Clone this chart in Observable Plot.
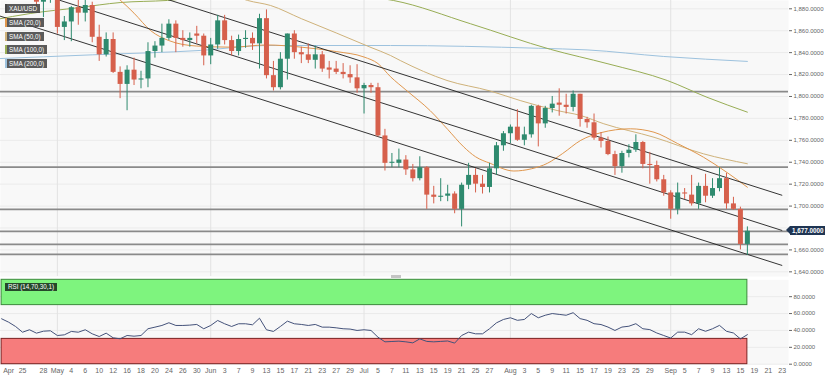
<!DOCTYPE html>
<html><head><meta charset="utf-8">
<script src="https://cdn.jsdelivr.net/npm/d3@7"></script>
<script src="https://cdn.jsdelivr.net/npm/@observablehq/plot@0.6"></script>
<style>
body{margin:0;background:#fff;font-family:"Liberation Sans",Arial,sans-serif;}
#wrap{position:relative;width:825px;height:381px;overflow:hidden;background:#fff;}
.panel{position:absolute;left:0;}
.leg{position:absolute;left:5px;height:9px;line-height:9px;font-size:6.3px;color:#fff;background:rgba(72,72,72,0.9);padding:0 3px 0 2px;white-space:nowrap;border-left:2px solid #484848;}
#rsiLab{position:absolute;left:5px;top:282.5px;height:8.5px;line-height:8.5px;font-size:6.3px;color:#fff;background:#25492a;padding:0 3px;white-space:nowrap;}
#tag{position:absolute;left:790px;height:9px;line-height:9px;font-size:6.3px;font-weight:bold;color:#fff;background:#1f3553;padding:0 2px;white-space:nowrap;}
#tagArrow{position:absolute;left:786px;width:0;height:0;border-top:4.5px solid transparent;border-bottom:4.5px solid transparent;border-right:4px solid #1f3553;}
#scroll{position:absolute;left:391px;top:275px;width:10px;height:3px;background:#c4c4c4;}
</style></head><body><div id="wrap"></div>
<script>
// ---------- data ----------
const firstIndex = -3; // Apr 20, 2022 (Apr 25 = 0), trading-day index
const open = [1951,1958,1951,
 1932,1898,1904,1886,1894, 1897,1863,1868,1881,1876, 1883,1854,1838,1852,1822,
 1811,1824,1815,1816,1841, 1846,1853,1866,1853,1851, 1857,1855,1837,1847,1869,
 1851,1841,1852,1853,1848, 1871,1819,1808,1834,1857, 1840,1838,1833,1838,1826,
 1825,1822,1820,1817,1807, 1810,1808,1764,1739,1739, 1742,1733,1725,1735,1710,
 1708,1709,1711,1697,1719, 1728,1720,1717,1734,1755, 1766,1772,1760,1765,1791,
 1775,1789,1794,1792,1790, 1802,1779,1776,1762,1759, 1747,1736,1748,1751,1758,
 1738,1737,1724,1712,1697, 1712,1710,1702,1718,1709, 1716,1725,1702,1697,1665];
const high = [1962,1966,1958,
 1936,1911,1908,1909,1920, 1898,1873,1882,1909,1890, 1886,1865,1858,1858,1827,
 1828,1835,1823,1849,1850, 1866,1870,1869,1860,1858, 1864,1857,1853,1874,1874,
 1855,1856,1860,1858,1875, 1879,1832,1840,1857,1860, 1845,1848,1846,1841,1832,
 1832,1830,1828,1829,1812, 1812,1812,1770,1748,1752, 1746,1738,1745,1736,1718,
 1725,1719,1713,1721,1739, 1734,1728,1739,1758,1768, 1774,1788,1772,1792,1792,
 1791,1800,1807,1802,1805, 1802,1781,1784,1767,1763, 1750,1750,1756,1765,1759,
 1749,1741,1728,1714,1721, 1716,1728,1721,1729,1725, 1735,1730,1708,1699,1681];
const low = [1941,1940,1929,
 1891,1891,1880,1872,1885, 1857,1851,1850,1865,1868, 1849,1832,1836,1821,1798,
 1787,1810,1807,1808,1835, 1840,1851,1840,1845,1845, 1848,1828,1829,1843,1847,
 1837,1837,1844,1842,1825, 1816,1805,1806,1815,1834, 1830,1830,1825,1822,1816,
 1820,1816,1812,1803,1784, 1803,1763,1732,1735,1735, 1728,1722,1723,1697,1702,
 1704,1704,1693,1681,1715, 1712,1711,1712,1728,1750, 1757,1759,1755,1762,1754,
 1771,1785,1782,1784,1786, 1772,1771,1760,1753,1746, 1728,1730,1744,1749,1734,
 1720,1722,1709,1688,1692, 1706,1700,1697,1703,1707, 1713,1697,1696,1660,1655];
const close = [1958,1951,1931,
 1898,1904,1886,1894,1897, 1863,1868,1881,1876,1883, 1854,1838,1852,1822,1811,
 1824,1815,1816,1841,1846, 1853,1866,1853,1851,1853, 1855,1837,1847,1869,1851,
 1841,1852,1853,1848,1871, 1819,1808,1834,1857,1840, 1838,1833,1838,1825,1824,
 1822,1820,1817,1807,1810, 1808,1764,1739,1740,1742, 1733,1725,1735,1710,1708,
 1709,1711,1697,1719,1728, 1720,1717,1734,1755,1766, 1772,1760,1765,1791,1775,
 1789,1793,1792,1790,1802, 1779,1776,1762,1759,1747, 1736,1748,1751,1758,1738,
 1737,1724,1712,1697,1712, 1711,1702,1718,1709,1716, 1725,1702,1697,1665,1677];
const rsi = [53.8,49.8,44.7,
 37.9,40.8,36.8,39.1,39.6, 34,34.8,38.8,37.9,40.8, 36,32.8,36.8,31.3,30.1,
 34,33.2,34,42,43.9, 45.9,49.1,45.9,45.9,46.3, 47.1,42,45.9,51.8,47.9,
 44.7,47.9,47.9,46.7,54.5, 40.8,38.8,44.7,51,47.9, 47.1,45.9,47.1,43.9,43.9,
 43.1,42,41.6,40,40.8, 40,32,26.5,26.9,27.3, 26.5,25.3,30,27,26.5,
 27,27.5,25,34,38, 36,36,42,49,53, 55,52,53,60,55,
 58,60,59,58,61, 54,52,48,47,44, 40,44,45,48,42,
 41,37,34,31,38, 38,35,42,39,42, 46,39,37,30,35];

const sma20Idx = [10,14,16,18.4,21,25,30,35,40,45,49,51,52.8,55,58.5,61,63.3,65,67.1,70.5,73,75.3,77.5,80.1,83,87.2,90.6,94,97.7,101,104];
const sma20Val = [1905,1888,1876,1860,1851,1846,1845,1847,1845,1841,1836,1830,1818,1806,1787,1770,1754,1745,1739,1732,1734,1739,1748,1760,1767,1770.5,1767.4,1757,1744.6,1731,1717.2];
const sma50Idx = [28,32.3,35.6,40,45,50,52.8,54.2,60.9,67.1,71.4,76.7,80.1,83.4,90.6,97.7,104];
const sma50Val = [1898,1887.6,1883,1871,1858,1844.7,1837.4,1832.8,1814.6,1805,1796.3,1787.2,1782.6,1775.1,1762.8,1747.7,1738.6];
const sma100Idx = [-4,1.1,8,14,20.8,30,45,53.2,64.3,75.75,84,92.5,98.2,104];
const sma100Val = [1870,1875.7,1881,1885.7,1887.6,1893,1893,1887.6,1866.3,1843,1829.8,1814.6,1799.3,1785.7];
const sma200Idx = [-4,10,25.5,35,52.8,74,81,92,104];
const sma200Val = [1834.4,1838,1842,1846.5,1846.5,1844,1842.5,1836.5,1832];

const levels = [1804.5, 1735.5, 1697, 1677, 1665, 1656];
const channelStartIdx = -4, channelEndIdx = 109;
const channelStartVal = [1938.8, 1906.7, 1874.9];
const channelEndVal = [1709.8, 1677.7, 1645.8];

const priceTicks = [1640,1660,1680,1700,1720,1740,1760,1780,1800,1820,1840,1860,1880];
const rsiTicks = [0,20,40,60,80];
const rsiUpper = 70, rsiLower = 30;
const monthStartIdx = [5,27,49,70,93];
const xTickIdx = [-2,0,3,5,7,9,11,13,15,17,19,21,23,25,27,29,31,33,35,37,39,41,43,45,47,49,51,53,55,57,59,61,63,65,67,70,72,74,76,78,80,82,84,86,88,90,93,95,97,99,101,103,105,107,109];
const xTickLabels = ["Apr","25","28","May","4","6","10","12","16","18","20","24","26","30","Jun","3","7","9","13","15","17","21","23","27","29","Jul","5","7","11","13","15","19","21","25","27","Aug","3","5","9","11","15","17","19","23","25","29","Sep","5","7","9","13","15","19","21","23"];
const legendNames = ["XAU/USD","SMA (20,0)","SMA (50,0)","SMA (100,0)","SMA (200,0)"];

// ---------- styles ----------
const UP = "#2e8a6e", DOWN = "#d6604c";
const C20 = "#e0974e", C50 = "#cfb27a", C100 = "#98ad55", C200 = "#9dc2de";
const xDomain = [-3.16, 109.9];
const fontFam = "'Liberation Sans', Arial, sans-serif";

// ---------- build ----------
const candles = open.map((o,k)=>({i:k+firstIndex,o,h:high[k],l:low[k],c:close[k]}));
const up = candles.filter(d=>d.c>=d.o), down = candles.filter(d=>d.c<d.o);
const bodyEnd = d => Math.abs(d.c-d.o) < 0.9 ? d.o + (d.c>=d.o?0.9:-0.9) : d.c;
const pts = (xs, ys) => xs.map((x,k)=>({x, y: ys[k]}));
const channels = channelStartVal.map((v,k)=>({x1:channelStartIdx,y1:v,x2:channelEndIdx,y2:channelEndVal[k]}));
const lastIdx = firstIndex + close.length - 1;
const lastClose = close[close.length-1];
// the last-price tag covers the tick label next to it
const priceTickLabels = priceTicks.filter(t => Math.abs(t - lastClose) > 6);

const main = Plot.plot({
  width: 825, height: 276,
  marginLeft: 0, marginRight: 37, marginTop: 0, marginBottom: 0,
  style: {fontSize: "6px", fontFamily: fontFam, color: "#666", background: "transparent", overflow: "visible"},
  x: {domain: xDomain, axis: null},
  y: {domain: [1635.75, 1887.57], axis: "right", ticks: priceTickLabels, tickFormat: d3.format(",.4f"), tickSize: 3, tickPadding: 2, label: null},
  marks: [
    Plot.frame({fill: "#f8f8f8", stroke: null}),
    Plot.ruleY(priceTicks, {stroke: "#ebebeb"}),
    Plot.ruleX(monthStartIdx, {stroke: "#e3e3e3"}),
    Plot.ruleY(levels, {stroke: "#8a8a8a", strokeWidth: 1.8}),
    Plot.line(pts(sma200Idx, sma200Val), {x:"x", y:"y", stroke: C200, strokeWidth: 1, curve: "monotone-x", clip: true}),
    Plot.line(pts(sma100Idx, sma100Val), {x:"x", y:"y", stroke: C100, strokeWidth: 1, curve: "monotone-x", clip: true}),
    Plot.line(pts(sma50Idx, sma50Val), {x:"x", y:"y", stroke: C50, strokeWidth: 1, curve: "monotone-x", clip: true}),
    Plot.line(pts(sma20Idx, sma20Val), {x:"x", y:"y", stroke: C20, strokeWidth: 1, curve: "monotone-x", clip: true}),
    Plot.link(channels, {x1:"x1", y1:"y1", x2:"x2", y2:"y2", stroke: "#1e1e1e", strokeWidth: 0.9, clip: true}),
    Plot.ruleX(up, {x:"i", y1:"l", y2:"h", stroke: UP, strokeWidth: 1, clip: true}),
    Plot.ruleX(down, {x:"i", y1:"l", y2:"h", stroke: DOWN, strokeWidth: 1, clip: true}),
    Plot.ruleX(up, {x:"i", y1:"o", y2: bodyEnd, stroke: UP, strokeWidth: 5, clip: true}),
    Plot.ruleX(down, {x:"i", y1:"o", y2: bodyEnd, stroke: DOWN, strokeWidth: 5, clip: true})
  ]
});

const tickLabel = new Map(xTickIdx.map((d,k)=>[d, xTickLabels[k]]));
const rsiData = rsi.map((v,k)=>({i:k+firstIndex, v}));
const rsiPlot = Plot.plot({
  width: 825, height: 104,
  marginLeft: 0, marginRight: 37, marginTop: 2.3, marginBottom: 17.3,
  style: {fontSize: "6px", fontFamily: fontFam, color: "#666", background: "transparent", overflow: "visible"},
  x: {domain: xDomain, ticks: xTickIdx, tickFormat: d => tickLabel.get(d), tickSize: 0, tickPadding: 4, label: null},
  y: {domain: [0, 100], axis: "right", ticks: rsiTicks, tickFormat: d3.format(".4f"), tickSize: 3, tickPadding: 2, label: null},
  marks: [
    Plot.frame({fill: "#f8f8f8", stroke: null}),
    Plot.ruleY(rsiTicks, {stroke: "#ebebeb"}),
    Plot.ruleX(monthStartIdx, {stroke: "#e3e3e3"}),
    Plot.rect([0], {x1: firstIndex, x2: lastIdx, y1: rsiUpper, y2: 100, fill: "#7ef47e", stroke: "#3b8a3b", strokeWidth: 1}),
    Plot.rect([0], {x1: firstIndex, x2: lastIdx, y1: 0, y2: rsiLower, fill: "#f67c7c", stroke: "#7a2020", strokeWidth: 1}),
    Plot.line(rsiData, {x:"i", y:"v", stroke: "#44527a", strokeWidth: 1})
  ]
});

const wrap = document.getElementById("wrap");
main.classList.add("panel"); main.style.top = "0px";
rsiPlot.classList.add("panel"); rsiPlot.style.top = "277px";
wrap.appendChild(main); wrap.appendChild(rsiPlot);
d3.select(rsiPlot).selectAll('g[aria-label^="x-axis"] text').attr("font-size", 7);

// legends
const legColors = [null, C20, C50, C100, C200];
const legTops = [3.5, 18, 31.5, 45, 58.5];
legendNames.forEach((name,k)=>{
  const div = document.createElement("div");
  div.className = "leg"; div.textContent = name;
  div.style.top = legTops[k] + "px";
  if (legColors[k]) div.style.borderLeftColor = legColors[k];
  wrap.appendChild(div);
});
const rl = document.createElement("div"); rl.id = "rsiLab";
rl.textContent = "RSI (" + [14, rsiUpper, rsiLower, 1].join(",") + ")";
wrap.appendChild(rl);

// last price tag
const py = main.scale("y").apply(lastClose);
const tag = document.createElement("div"); tag.id = "tag";
tag.textContent = d3.format(",.4f")(lastClose);
tag.style.top = (py - 4.5) + "px";
const arr = document.createElement("div"); arr.id = "tagArrow"; arr.style.top = (py - 4.5) + "px";
wrap.appendChild(arr); wrap.appendChild(tag);
const sc = document.createElement("div"); sc.id = "scroll"; wrap.appendChild(sc);
</script></body></html>
